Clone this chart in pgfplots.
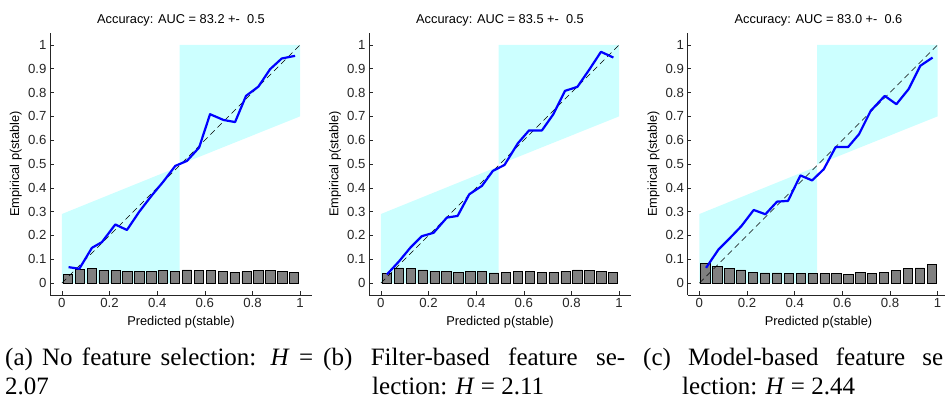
\documentclass[border=0pt]{standalone}
\usepackage{fontspec}
\setmainfont{Liberation Sans}
\newfontfamily\capfont{Liberation Serif}
\usepackage{pgfplots}
\pgfplotsset{compat=1.18}
\definecolor{shade}{HTML}{CCFFFF}
\definecolor{axgray}{HTML}{262626}
\definecolor{bargray}{HTML}{808080}
\newcommand\tf{\fontsize{13.2}{15}\selectfont}
\newcommand\lf{\fontsize{12.8}{15}\selectfont}
\pgfplotsset{rel/.style={
  scale only axis, width=262pt, height=262pt,
  xmin=-0.05, xmax=1.05, ymin=-0.05, ymax=1.05,
  axis x line=bottom, axis y line=left,
  axis line style={-, axgray, line width=0.8pt},
  tick align=inside, major tick length=3.5pt,
  tick style={axgray, line width=0.6pt},
  xtick={0,0.2,0.4,0.6,0.8,1},
  xticklabels={\tf 0,\tf 0.2,\tf 0.4,\tf 0.6,\tf 0.8,\tf 1},
  ytick={0,0.1,0.2,0.3,0.4,0.5,0.6,0.7,0.8,0.9,1},
  yticklabels={\tf 0,\tf 0.1,\tf 0.2,\tf 0.3,\tf 0.4,\tf 0.5,\tf 0.6,\tf 0.7,\tf 0.8,\tf 0.9,\tf 1},
  tick label style={text=axgray},
  every axis title/.style={at={(axis description cs:0.5,1.0496)}, anchor=center},
  xlabel={\lf Predicted p(stable)},
  ylabel={\lf Empirical p(stable)},
  xlabel style={at={(axis description cs:0.5,-0.103)}, anchor=center},
  ylabel style={at={(axis description cs:-0.13,0.5)}, anchor=center},
  anchor=south west,
  clip=false,
}}
\begin{document}
\begin{tikzpicture}
\useasboundingbox (0pt,0pt) rectangle (945pt,401pt);
% ---------- (a)
\begin{axis}[rel, at={(50pt,106pt)}, title={\lf Accuracy: AUC = 83.2 +-\ \ 0.5}]
\addplot[fill=shade, draw=none] coordinates {(0,0) (0,0.29) (0.494,0.49) (0.494,0)};
\addplot[fill=shade, draw=none] coordinates {(0.494,0.497) (0.494,1) (1,1) (1,0.7)};
\addplot[ybar, bar width=0.039, fill=bargray, draw=black, line width=0.6pt] coordinates {
(0.025,0.035) (0.075,0.057) (0.125,0.060) (0.175,0.053) (0.225,0.053) (0.275,0.050) (0.325,0.050) (0.375,0.048) (0.425,0.053) (0.475,0.050)
(0.525,0.055) (0.575,0.052) (0.625,0.052) (0.675,0.048) (0.725,0.046) (0.775,0.048) (0.825,0.052) (0.875,0.052) (0.925,0.050) (0.975,0.045)};
\addplot[black, line width=0.5pt, dash pattern=on 6pt off 4pt] coordinates {(0,0) (1,1)};
\addplot[blue, line width=2.2pt, line join=round] coordinates {
(0.028,0.067) (0.073,0.060) (0.126,0.148) (0.168,0.172) (0.224,0.246) (0.273,0.223) (0.325,0.300) (0.375,0.365) (0.425,0.425) (0.476,0.492)
(0.525,0.513) (0.576,0.569) (0.622,0.709) (0.678,0.685) (0.727,0.676) (0.773,0.786) (0.825,0.825) (0.874,0.898) (0.923,0.943) (0.979,0.954)};
\end{axis}
% ---------- (b)
\begin{axis}[rel, at={(369pt,106pt)}, title={\lf Accuracy: AUC = 83.5 +-\ \ 0.5}]
\addplot[fill=shade, draw=none] coordinates {(0,0) (0,0.29) (0.494,0.49) (0.494,0)};
\addplot[fill=shade, draw=none] coordinates {(0.494,0.497) (0.494,1) (1,1) (1,0.7)};
\addplot[ybar, bar width=0.039, fill=bargray, draw=black, line width=0.6pt] coordinates {
(0.025,0.039) (0.075,0.064) (0.125,0.060) (0.175,0.055) (0.225,0.050) (0.275,0.050) (0.325,0.046) (0.375,0.049) (0.425,0.048) (0.475,0.043)
(0.525,0.046) (0.575,0.050) (0.625,0.048) (0.675,0.046) (0.725,0.046) (0.775,0.050) (0.825,0.055) (0.875,0.052) (0.925,0.050) (0.975,0.045)};
\addplot[black, line width=0.5pt, dash pattern=on 6pt off 4pt] coordinates {(0,0) (1,1)};
\addplot[blue, line width=2.2pt, line join=round] coordinates {
(0.025,0.036) (0.075,0.090) (0.123,0.148) (0.172,0.197) (0.221,0.211) (0.277,0.275) (0.322,0.282) (0.371,0.373) (0.424,0.408) (0.470,0.471)
(0.519,0.496) (0.575,0.587) (0.622,0.641) (0.676,0.641) (0.724,0.709) (0.773,0.807) (0.825,0.824) (0.876,0.898) (0.924,0.971) (0.976,0.947)};
\end{axis}
% ---------- (c)
\begin{axis}[rel, at={(687.5pt,106pt)}, title={\lf Accuracy: AUC = 83.0 +-\ \ 0.6}]
\addplot[fill=shade, draw=none] coordinates {(0,0) (0,0.29) (0.494,0.49) (0.494,0)};
\addplot[fill=shade, draw=none] coordinates {(0.494,0.497) (0.494,1) (1,1) (1,0.7)};
\addplot[ybar, bar width=0.039, fill=bargray, draw=black, line width=0.6pt] coordinates {
(0.025,0.081) (0.075,0.071) (0.125,0.060) (0.175,0.055) (0.225,0.046) (0.275,0.043) (0.325,0.043) (0.375,0.039) (0.425,0.039) (0.475,0.039)
(0.525,0.039) (0.575,0.039) (0.625,0.038) (0.675,0.045) (0.725,0.039) (0.775,0.046) (0.825,0.053) (0.875,0.060) (0.925,0.064) (0.975,0.077)};
\addplot[black, line width=0.5pt, dash pattern=on 6pt off 4pt] coordinates {(0,0) (1,1)};
\addplot[blue, line width=2.2pt, line join=round] coordinates {
(0.028,0.064) (0.080,0.141) (0.129,0.190) (0.176,0.239) (0.228,0.307) (0.277,0.289) (0.326,0.342) (0.372,0.345) (0.424,0.452) (0.473,0.431)
(0.522,0.478) (0.572,0.571) (0.624,0.571) (0.670,0.625) (0.719,0.723) (0.778,0.786) (0.827,0.751) (0.878,0.814) (0.927,0.912) (0.979,0.947)};
\end{axis}
% ---------- captions
\begin{scope}[every node/.style={inner sep=0pt, anchor=base west, font=\capfont\fontsize{25}{30}\selectfont}]
\node at (5pt,35pt) {\makebox[308pt][s]{(a) No feature selection: \textit{H} =}};
\node at (5pt,6pt) {2.07};
\node at (323pt,35pt) {\makebox[302pt][s]{(b) Filter-based feature se-}};
\node at (372pt,6pt) {lection: \textit{H} = 2.11};
\node at (643pt,35pt) {\makebox[300pt][s]{(c) Model-based feature se}};
\node at (682pt,6pt) {lection: \textit{H} = 2.44};
\end{scope}
\end{tikzpicture}
\end{document}
